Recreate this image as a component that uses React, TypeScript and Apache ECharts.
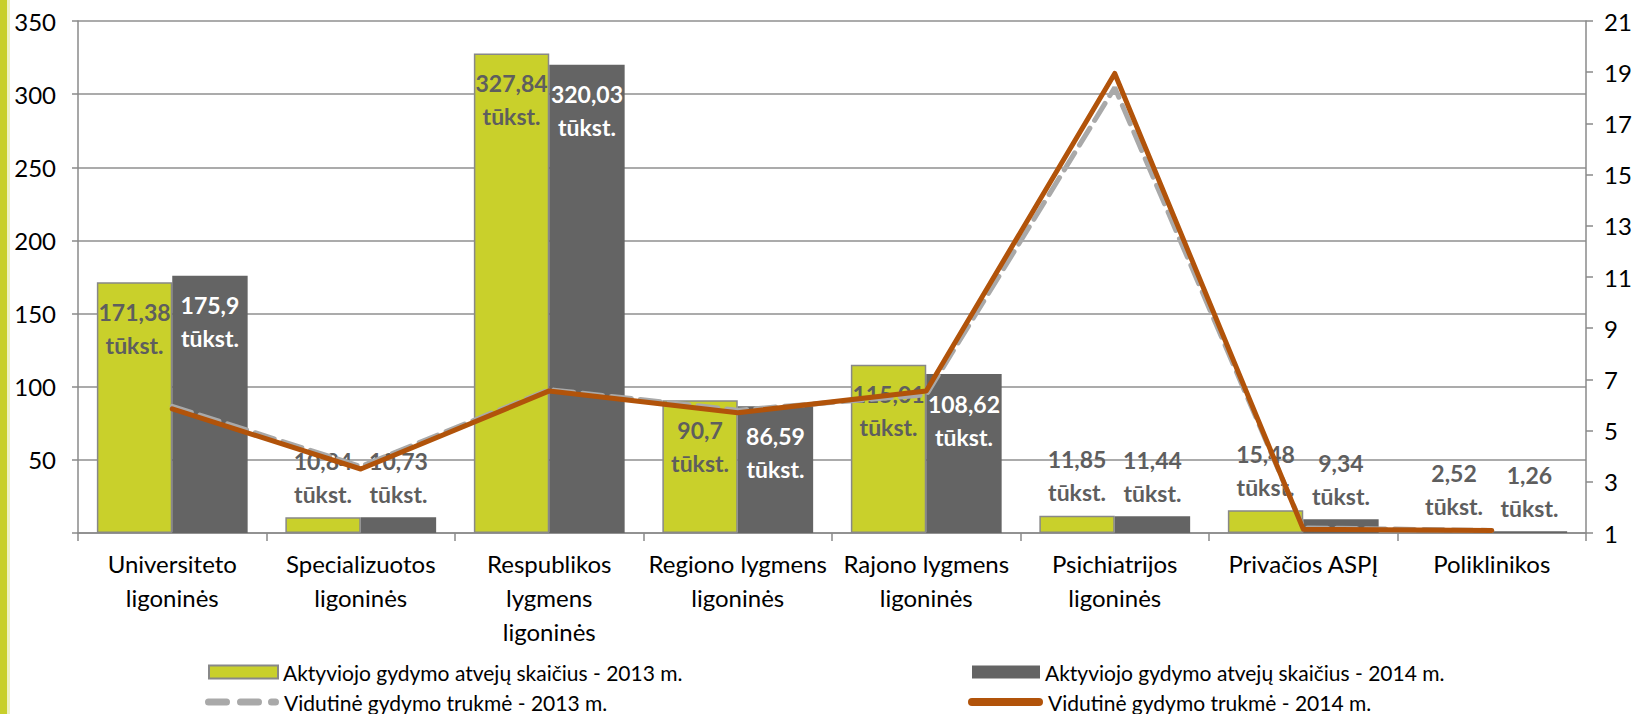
import React, { useEffect, useRef } from "react";
import * as echarts from "echarts";

const categories = [
  "Universiteto\nligoninės",
  "Specializuotos\nligoninės",
  "Respublikos\nlygmens\nligoninės",
  "Regiono lygmens\nligoninės",
  "Rajono lygmens\nligoninės",
  "Psichiatrijos\nligoninės",
  "Privačios ASPĮ",
  "Poliklinikos",
];
const cases2013 = [171.38, 10.84, 327.84, 90.7, 115.01, 11.85, 15.48, 2.52];
const cases2014 = [175.9, 10.73, 320.03, 86.59, 108.62, 11.44, 9.34, 1.26];
const duration2013 = [5.95, 3.6, 6.6, 5.8, 6.4, 18.4, 1.2, 1.1];
const duration2014 = [5.85, 3.5, 6.55, 5.7, 6.55, 18.95, 1.15, 1.1];

const seriesNames = [
  "Aktyviojo gydymo atvejų skaičius - 2013 m.",
  "Aktyviojo gydymo atvejų skaičius - 2014 m.",
  "Vidutinė gydymo trukmė - 2013 m.",
  "Vidutinė gydymo trukmė - 2014 m.",
];

const FONT = "Lato, 'Open Sans', sans-serif";
const GREEN = "#C9D02B";
const DARK = "#646464";
const ORANGE = "#B1530A";
const DASH = "#A9A9A9";
const LABEL_GRAY = "#5E5E5E";
const AXIS = "#8A8A8A";

const DASH_ICON =
  "path://M3.5,0h18a3.5,3.5 0 0 1 0,7h-18a3.5,3.5 0 0 1 0,-7z M35.5,0h18a3.5,3.5 0 0 1 0,7h-18a3.5,3.5 0 0 1 0,-7z M66.5,0h4a3.5,3.5 0 0 1 0,7h-4a3.5,3.5 0 0 1 0,-7z";
const ROUND_ICON = "path://M4,0h67a4,4 0 0 1 0,8h-67a4,4 0 0 1 0,-8z";

const fmt = (v: number) => String(v).replace(".", ",") + "\ntūkst.";

function barData(values: number[], insideColor: string) {
  return values.map((v) => {
    const inside = v > 50;
    return {
      value: v,
      label: {
        show: true,
        position: inside ? "insideTop" : "top",
        distance: inside ? 13 : 7,
        color: inside ? insideColor : LABEL_GRAY,
        formatter: () => fmt(v),
      },
    };
  });
}

function legendItem(name: string, left: number, centerY: number, w: number, h: number, icon: string) {
  return {
    data: [{ name, icon }],
    left,
    top: centerY - 11,
    padding: 0,
    itemWidth: w,
    itemHeight: h,
    itemGap: 0,
    textStyle: { fontFamily: FONT, fontSize: 21, lineHeight: 22, color: "#000" },
  };
}

export default function App() {
  const ref = useRef<HTMLDivElement>(null);
  useEffect(() => {
    document.body.style.margin = "0";
    if (!ref.current) return;
    const chart = echarts.init(ref.current, null, { renderer: "svg" });
    const labelBase = {
      fontFamily: FONT,
      fontSize: 23,
      fontWeight: "bold" as const,
      lineHeight: 33,
    };
    chart.setOption({
      animation: false,
      backgroundColor: "#ffffff",
      textStyle: { fontFamily: FONT },
      graphic: [
        { type: "rect", left: 0, top: 0, shape: { width: 7, height: 714 }, style: { fill: "#C8CF2A" } },
        { type: "rect", left: 7, top: 0, shape: { width: 3, height: 714 }, style: { fill: "#EEF1C4" } },
      ],
      grid: { left: 78, right: 53, top: 21, bottom: 181, containLabel: false },
      legend: [
        legendItem(seriesNames[0], 208, 672, 69, 13, "rect"),
        legendItem(seriesNames[2], 205, 702, 74, 7, DASH_ICON),
        legendItem(seriesNames[1], 972, 672, 68, 13, "rect"),
        legendItem(seriesNames[3], 968, 702, 75, 8, ROUND_ICON),
      ],
      xAxis: {
        type: "category",
        data: categories,
        boundaryGap: true,
        axisLine: { show: true, lineStyle: { color: AXIS, width: 1.5 } },
        axisTick: { show: true, length: 8, alignWithLabel: false, lineStyle: { color: AXIS, width: 1.5 } },
        axisLabel: {
          interval: 0,
          margin: 13,
          color: "#000",
          fontFamily: FONT,
          fontSize: 24,
          lineHeight: 34,
        },
      },
      yAxis: [
        {
          type: "value",
          min: 0,
          max: 350,
          interval: 50,
          position: "left",
          axisLine: { show: true, lineStyle: { color: AXIS, width: 1.5 } },
          axisTick: { show: true, length: 6, lineStyle: { color: AXIS, width: 1.5 } },
          splitLine: { show: true, lineStyle: { color: "#8F8F8F", width: 1.5 } },
          axisLabel: {
            margin: 22,
            color: "#000",
            fontFamily: FONT,
            fontSize: 24,
            formatter: (v: number) => (v === 0 ? "" : String(v)),
          },
        },
        {
          type: "value",
          min: 1,
          max: 21,
          interval: 2,
          position: "right",
          axisLine: { show: true, lineStyle: { color: AXIS, width: 1.5 } },
          axisTick: { show: true, length: 7, lineStyle: { color: AXIS, width: 1.5 } },
          splitLine: { show: false },
          axisLabel: { margin: 18, color: "#000", fontFamily: FONT, fontSize: 24 },
        },
      ],
      series: [
        {
          name: seriesNames[0],
          type: "bar",
          yAxisIndex: 0,
          barGap: "0%",
          barCategoryGap: "20%",
          itemStyle: { color: GREEN, borderColor: "#888888", borderWidth: 1.5 },
          label: labelBase,
          data: barData(cases2013, LABEL_GRAY),
          z: 2,
        },
        {
          name: seriesNames[1],
          type: "bar",
          yAxisIndex: 0,
          barGap: "0%",
          barCategoryGap: "20%",
          itemStyle: { color: DARK },
          label: labelBase,
          data: barData(cases2014, "#ffffff"),
          z: 2,
        },
        {
          name: seriesNames[2],
          type: "line",
          yAxisIndex: 1,
          symbol: "none",
          lineStyle: { color: DASH, width: 5, type: [20, 9], cap: "round" },
          itemStyle: { color: DASH },
          data: duration2013,
          z: 3,
        },
        {
          name: seriesNames[3],
          type: "line",
          yAxisIndex: 1,
          symbol: "none",
          lineStyle: { color: ORANGE, width: 5, cap: "round", join: "round" },
          itemStyle: { color: ORANGE },
          data: duration2014,
          z: 4,
        },
      ],
    });
    return () => chart.dispose();
  }, []);
  return <div ref={ref} style={{ width: 1639, height: 714 }} />;
}
